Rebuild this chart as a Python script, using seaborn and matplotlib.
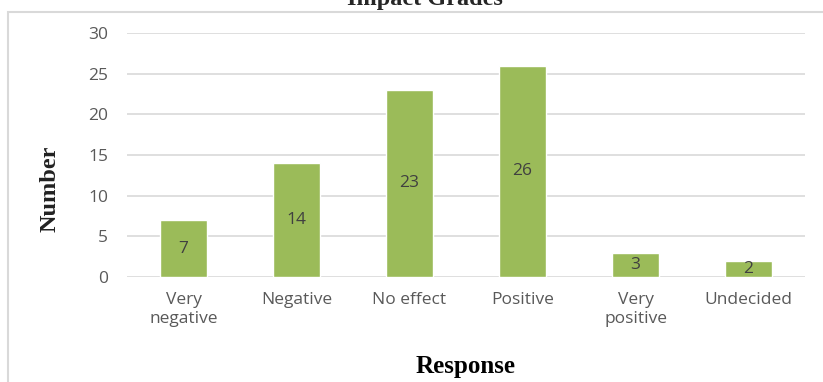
import matplotlib
matplotlib.use("Agg")
import matplotlib.pyplot as plt
import seaborn as sns
import pandas as pd
from matplotlib.patches import Rectangle

# Survey responses on perceived impact of grades
responses = ["Very\nnegative", "Negative", "No effect", "Positive", "Very\npositive", "Undecided"]
counts = [7, 14, 23, 26, 3, 2]
y_ticks = [0, 5, 10, 15, 20, 25, 30]

df = pd.DataFrame({"Response": responses, "Number": counts})

sns.set_theme(style="white")
plt.rcParams["font.family"] = ["Open Sans", "DejaVu Sans"]

W, H = 823, 382
fig = plt.figure(figsize=(W / 100, H / 100), dpi=100)
ax = fig.add_axes([127 / W, 1 - 277 / H, (805 - 127) / W, (277 - 33) / H])

bar_color = "#9BBB59"
sns.barplot(data=df, x="Response", y="Number", color=bar_color, saturation=1,
            width=0.41, ax=ax, zorder=3)

ax.set_ylim(0, 30)
ax.set_yticks(y_ticks)
ax.set_xlim(-0.5, len(responses) - 0.5)
ax.grid(axis="y", color="#d9d9d9", linewidth=1.2, zorder=0)
ax.grid(axis="x", visible=False)
for s in ax.spines.values():
    s.set_visible(False)

tick_color = "#595959"
ax.tick_params(axis="both", length=0, labelsize=12.5, labelcolor=tick_color)
ax.tick_params(axis="y", pad=13.5)
ax.tick_params(axis="x", pad=11)
for lbl in ax.get_xticklabels():
    lbl.set_linespacing(1.25)

# value labels centered in each bar
for patch, v in zip(ax.patches, counts):
    ax.text(patch.get_x() + patch.get_width() / 2, v / 2, str(v),
            ha="center", va="center", fontsize=12.5, color="#404040", zorder=4)

serif = ["Liberation Serif", "DejaVu Serif"]
ax.set_xlabel("Response", fontsize=18, fontweight="bold", family=serif, color="black")
ax.xaxis.set_label_coords(0.5 + (466 - 466) / 678, -(355 - 277) / 244)
ax.set_ylabel("Number", fontsize=17.5, fontweight="bold", family=serif, color="#222222")
ax.yaxis.set_label_coords(-(127 - 61) / 678, (277 - 189) / 244)

fig.text(425 / W, 1 - 5 / H, "Impact Grades", ha="center", va="baseline",
         fontsize=17.5, fontweight="bold", family=serif)

# chart frame
fig.patches.append(Rectangle((8 / W, -0.05), 1.0, 1 - 12 / H + 0.05,
                             transform=fig.transFigure, fill=False,
                             edgecolor="#d9d9d9", linewidth=1.5))

fig.savefig("out.png", dpi=100)
